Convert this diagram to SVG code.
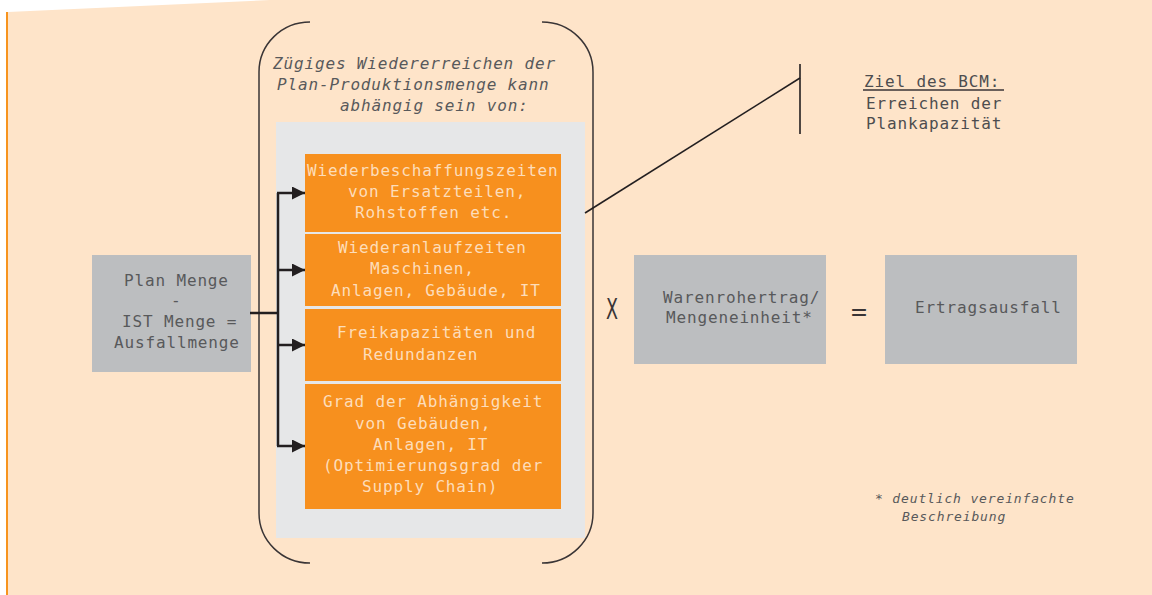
<svg xmlns="http://www.w3.org/2000/svg" width="1152" height="595" viewBox="0 0 1152 595">
<defs>
<style>
.mono{font-family:"DejaVu Sans Mono","Liberation Mono",monospace;font-size:16px;letter-spacing:0.85px}
.ot{fill:#FDDDBA}
.gt{fill:#58595B}
.it{font-style:italic}
.conn{stroke:#231F20;stroke-width:2.5;fill:none}
.brk{stroke:#3A3536;stroke-width:1.5;fill:none}
.ob{fill:#F7901E}
.gb{fill:#BCBEC0}
</style>
<marker id="arr" markerUnits="userSpaceOnUse" markerWidth="14" markerHeight="13" refX="13" refY="6.5" orient="auto">
<path d="M0,0 L13,6.5 L0,13 z" fill="#231F20"/>
</marker>
</defs>
<rect x="0" y="0" width="1152" height="595" fill="#FFFFFF"/>
<polygon points="8,12 270,0 1152,0 1152,595 8,595" fill="#FEE4C9"/>
<line x1="7" y1="12" x2="7" y2="595" stroke="#F7941E" stroke-width="2"/>

<g id="bracket">
<path class="brk" d="M310,22 A51,50 0 0 0 259,72 L259,513 A51,50 0 0 0 310,563"/>
<path class="brk" d="M542,22 A51,50 0 0 1 593,72 L593,513 A51,50 0 0 1 542,563"/>
</g>

<g id="heading">
<text class="mono gt it" x="273" y="69">Zügiges Wiedererreichen der</text>
<text class="mono gt it" x="277" y="90">Plan-Produktionsmenge kann</text>
<text class="mono gt it" x="340" y="111">abhängig sein von:</text>
</g>

<g id="factors-bg">
<rect x="276" y="122" width="309" height="416" fill="#E6E7E8"/>
</g>

<g id="factor1">
<rect class="ob" x="305" y="154" width="256" height="78"/>
<text class="mono ot" x="307" y="175.5">Wiederbeschaffungszeiten</text>
<text class="mono ot" x="348" y="196.5">von Ersatzteilen,</text>
<text class="mono ot" x="355" y="218">Rohstoffen etc.</text>
</g>
<g id="factor2">
<rect class="ob" x="305" y="234" width="256" height="72"/>
<text class="mono ot" x="338" y="253">Wiederanlaufzeiten</text>
<text class="mono ot" x="370" y="274">Maschinen,</text>
<text class="mono ot" x="331" y="295.5">Anlagen, Gebäude, IT</text>
</g>
<g id="factor3">
<rect class="ob" x="305" y="309" width="256" height="72"/>
<text class="mono ot" x="337" y="338">Freikapazitäten und</text>
<text class="mono ot" x="363" y="360">Redundanzen</text>
</g>
<g id="factor4">
<rect class="ob" x="305" y="384" width="256" height="125"/>
<text class="mono ot" x="323" y="407">Grad der Abhängigkeit</text>
<text class="mono ot" x="355" y="428.5">von Gebäuden,</text>
<text class="mono ot" x="373" y="449.5">Anlagen, IT</text>
<text class="mono ot" x="323" y="470.5">(Optimierungsgrad der</text>
<text class="mono ot" x="362" y="491.5">Supply Chain)</text>
</g>

<g id="ausfallmenge">
<rect class="gb" x="92" y="255" width="159" height="117"/>
<text class="mono gt" x="124" y="286">Plan Menge</text>
<text class="mono gt" x="171" y="306">-</text>
<text class="mono gt" x="122" y="327">IST Menge =</text>
<text class="mono gt" x="114" y="348">Ausfallmenge</text>
</g>

<g id="connectors">
<line class="conn" x1="250" y1="313" x2="278" y2="313"/>
<line class="conn" x1="278" y1="193" x2="278" y2="446"/>
<line class="conn" x1="277" y1="193" x2="305" y2="193" marker-end="url(#arr)"/>
<line class="conn" x1="277" y1="270" x2="305" y2="270" marker-end="url(#arr)"/>
<line class="conn" x1="277" y1="345" x2="305" y2="345" marker-end="url(#arr)"/>
<line class="conn" x1="277" y1="446" x2="305" y2="446" marker-end="url(#arr)"/>
<polyline points="585,213 800,78" stroke="#231F20" stroke-width="1.6" fill="none"/>
<line x1="800" y1="64" x2="800" y2="134" stroke="#231F20" stroke-width="1.6"/>
</g>

<g id="ziel">
<text class="mono" x="864" y="87" fill="#4D4D4F">Ziel des BCM:</text>
<line x1="863" y1="90" x2="1004" y2="90" stroke="#3A3536" stroke-width="1.5"/>
<text class="mono" x="866" y="109" fill="#4D4D4F">Erreichen der</text>
<text class="mono" x="866" y="129" fill="#4D4D4F">Plankapazität</text>
</g>

<g id="times">
<text x="606" y="319" font-family="DejaVu Sans, sans-serif" font-size="28" fill="#3A3536" textLength="12" lengthAdjust="spacingAndGlyphs">X</text>
</g>

<g id="warenrohertrag">
<rect class="gb" x="634" y="255" width="192" height="109"/>
<text class="mono gt" x="663" y="303">Warenrohertrag/</text>
<text class="mono gt" x="666" y="323">Mengeneinheit*</text>
</g>

<g id="equals">
<text x="851" y="320" font-family="DejaVu Sans Mono, monospace" font-size="24" fill="#3A3536" textLength="16" lengthAdjust="spacingAndGlyphs">=</text>
</g>

<g id="ertragsausfall">
<rect class="gb" x="885" y="255" width="192" height="109"/>
<text class="mono gt" x="915" y="313">Ertragsausfall</text>
</g>

<g id="footnote">
<text class="gt it" x="875" y="503" font-family="DejaVu Sans Mono, monospace" font-size="13" letter-spacing="0.85">* deutlich vereinfachte</text>
<text class="gt it" x="902" y="521" font-family="DejaVu Sans Mono, monospace" font-size="13" letter-spacing="0.85">Beschreibung</text>
</g>
</svg>
